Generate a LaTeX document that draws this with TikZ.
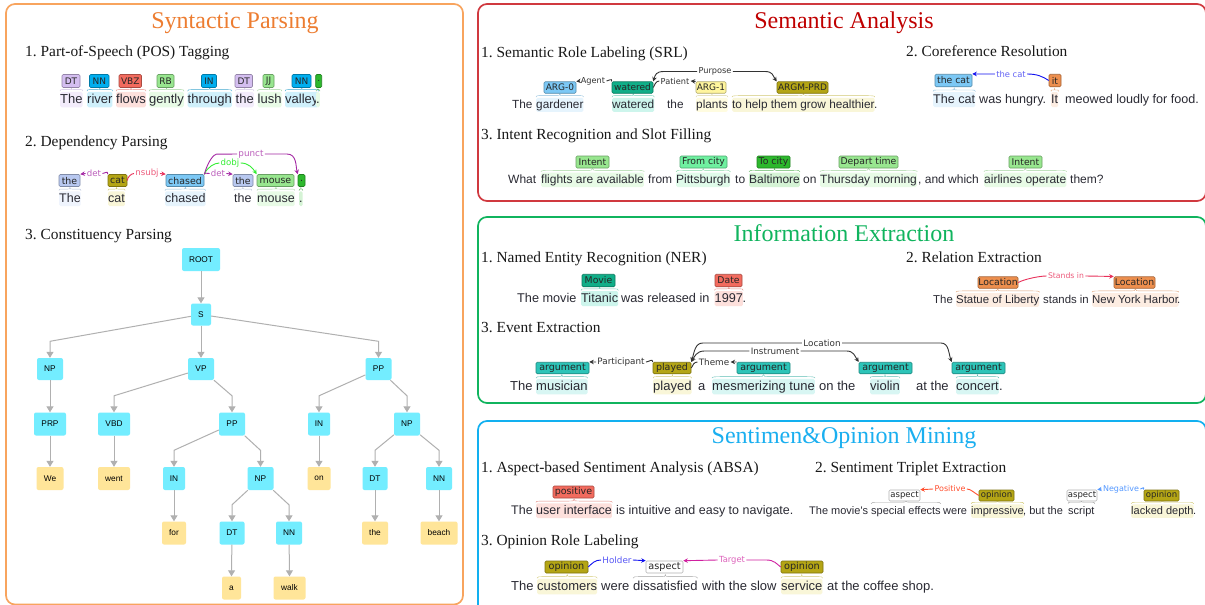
\documentclass[tikz,border=0pt]{standalone}
\usepackage{fontspec}
\usetikzlibrary{arrows.meta,calc}
\setmainfont{Liberation Serif}
\newfontfamily\sansF{Liberation Sans}
\newfontfamily\tagF{DejaVu Sans}
\frenchspacing
\definecolor{cOrange}{HTML}{F8A45E}
\definecolor{tOrange}{HTML}{ED7D31}
\definecolor{cRed}{HTML}{D0393F}
\definecolor{tRed}{HTML}{C00000}
\definecolor{cGreen}{HTML}{10B45E}
\definecolor{cBlue}{HTML}{12B0F0}
\definecolor{tBlue}{HTML}{1AAFF0}
\definecolor{ink}{HTML}{2A2A33}
\definecolor{kDT}{HTML}{D4BEF0}
\definecolor{kNN}{HTML}{00AEEF}
\definecolor{kRed}{HTML}{F26B5E}
\definecolor{kLime}{HTML}{98E68F}
\definecolor{kDark}{HTML}{2DB82D}
\definecolor{kThe}{HTML}{B8C8F0}
\definecolor{kOlive}{HTML}{B4A515}
\definecolor{kSky}{HTML}{7CC8F5}
\definecolor{kTeal}{HTML}{10AE88}
\definecolor{kYel}{HTML}{FFF59D}
\definecolor{kMint}{HTML}{6FF0A0}
\definecolor{kOr}{HTML}{ED8F4E}
\definecolor{kTurq}{HTML}{2DC4B8}
\definecolor{bDT}{HTML}{F3ECFB}
\definecolor{bNN}{HTML}{CFF0FB}
\definecolor{bRed}{HTML}{FDE0DC}
\definecolor{bLime}{HTML}{E8FBE6}
\definecolor{bThe}{HTML}{EFF4FD}
\definecolor{bOl}{HTML}{F9F6D8}
\definecolor{bSky}{HTML}{E6F4FD}
\definecolor{bTeal}{HTML}{CDF5EC}
\definecolor{bYel}{HTML}{FFFCE0}
\definecolor{bMint}{HTML}{E0FBEA}
\definecolor{bDark}{HTML}{D5F3D5}
\definecolor{bOr}{HTML}{FDEDE2}
\definecolor{bTurq}{HTML}{D8F6F3}
\definecolor{aPurple}{HTML}{A428A4}
\definecolor{aRose}{HTML}{E8305A}
\definecolor{aLime}{HTML}{33EE33}
\definecolor{aDark}{HTML}{333333}
\definecolor{aBlue}{HTML}{1010F0}
\definecolor{aMag}{HTML}{D020A0}
\definecolor{aOrR}{HTML}{FF5030}
\definecolor{aSky}{HTML}{5599FF}
\definecolor{treeC}{HTML}{73EDFF}
\definecolor{treeY}{HTML}{FFE599}
\definecolor{treeE}{HTML}{B0B0B0}
\newcommand\fsz[1]{\fontsize{#1}{#1}\selectfont}
\newcommand\tgsize{9.3}
\tikzset{
  panel/.style={draw=#1,line width=1.7pt,rounded corners=9pt},
  titlenode/.style={font=\fsz{24},text=#1,inner sep=0pt,anchor=base},
  head/.style={font=\fsz{15.4},anchor=base west,inner sep=0pt,text=black!90},
  tagb/.style={draw=#1!70!black,fill=#1,line width=.6pt,rounded corners=1.2pt,inner sep=0pt,text=black!85,
    font=\tagF\fsz{\tgsize}},
  wordb/.style n args={2}{fill=#1,font=\sansF\fsz{#2},anchor=base west,inner xsep=0pt,inner ysep=1pt,
    text height=.78*#2pt,text depth=.25*#2pt,rounded corners=1.5pt,text=ink},
  alab/.style n args={2}{font=\tagF\fsz{#2},text=#1,inner xsep=1.2pt,inner ysep=0pt},
  arcl/.style={draw=#1,line width=.9pt},
  arct/.style={draw=#1,line width=.9pt,-{Stealth[length=4.5pt,width=4.5pt]}},
  treeb/.style={fill=#1,rounded corners=2pt,inner sep=0pt,font=\sansF\fsz{8.3},text=black},
  tedgea/.style={draw=treeE,line width=1pt,-{Triangle[length=6pt,width=7pt]}},
}
\newcommand\tg[7]{\pgfmathsetmacro{\cxx}{(#3+#4)/2}\pgfmathsetmacro{\www}{#4-#3}%
  \node[tagb=#2,minimum width=\www pt,minimum height=#6pt] (#1) at (\cxx,#5) {#7};}
\newcommand\wrd[6]{\node[wordb={#2}{#5}] (#1) at (#3,#4) {#6};}
\newcommand\brc[2]{\draw[#2,draw opacity=.75,line width=.4pt] let \p1=(#1.north west),\p2=(#1.north east),\p3=(#1.north) in
  (\x1,\y1+.5pt) .. controls (\x1,\y1+2pt) .. ($(\x1,\y1+2pt)!.4!(\x3,\y1+2pt)$)
  -- ($(\x1,\y1+2pt)!.8!(\x3,\y1+2pt)$) .. controls (\x3,\y1+2pt) .. (\x3,\y1+4pt)
  .. controls (\x3,\y1+2pt) .. ($(\x2,\y1+2pt)!.8!(\x3,\y1+2pt)$)
  -- ($(\x2,\y1+2pt)!.4!(\x3,\y1+2pt)$) .. controls (\x2,\y1+2pt) .. (\x2,\y1+.5pt);}
\newcommand\tn[7]{\node[treeb=#2,minimum width=#5pt,minimum height=#6pt] (#1) at (#3,#4) {#7};}
\newcommand\elb[2]{\draw[tedgea] (#1) -- ([yshift=16.5pt]#2.north) -- (#2.north);}
\newcommand\stt[2]{\draw[tedgea] (#1) -- (#2.north);}
\begin{document}
\begin{tikzpicture}[x=1pt,y=-1pt]
\fill[white] (0,0) rectangle (1205,605);
\useasboundingbox (0,0) rectangle (1205,605);
% panels
\draw[panel=cOrange] (6,4) rectangle (463,604.5);
\draw[panel=cRed] (478,4) rectangle (1206,201);
\draw[panel=cGreen] (478,217) rectangle (1206,403);
\draw[panel=cBlue] (478,421) rectangle (1206,615);
\node[titlenode=tOrange] (ttA) at (235,28) {Syntactic Parsing};
\node[titlenode=tRed] (ttB) at (844,28) {Semantic Analysis};
\node[titlenode=cGreen] (ttC) at (844,241) {Information Extraction};
\node[titlenode=tBlue] (ttD) at (844,443) {Sentimen\&Opinion Mining};
% headings
\node[head] (h1) at (25,56) {1. Part-of-Speech (POS) Tagging};
\node[head] (h2) at (25,146) {2. Dependency Parsing};
\node[head] (h3) at (25,239) {3. Constituency Parsing};
\node[head] (h4) at (481,57) {1. Semantic Role Labeling (SRL)};
\node[head] (h5) at (906,56) {2. Coreference Resolution};
\node[head] (h6) at (481,139) {3. Intent Recognition and Slot Filling};
\node[head] (h7) at (481,262) {1. Named Entity Recognition (NER)};
\node[head] (h8) at (906,262) {2. Relation Extraction};
\node[head] (h9) at (481,332) {3. Event Extraction};
\node[head] (h10) at (481,472) {1. Aspect-based Sentiment Analysis (ABSA)};
\node[head] (h11) at (815,472) {2. Sentiment Triplet Extraction};
\node[head] (h12) at (481,545) {3. Opinion Role Labeling};
% POS
\renewcommand\tgsize{9}
\wrd{pw1}{bDT}{60}{103}{13}{The}\wrd{pw2}{bNN}{87}{103}{13}{river}\wrd{pw3}{bRed}{116}{103}{13}{flows}
\wrd{pw4}{bLime}{149}{103}{13}{gently}\wrd{pw5}{bNN}{187.5}{103}{13}{through}\wrd{pw6}{bDT}{235.5}{103}{13}{the}
\wrd{pw7}{bLime}{257.5}{103}{13}{lush}\wrd{pw8}{bNN}{285}{103}{13}{valley}\wrd{pw9}{bLime}{316}{103}{13}{.}
\brc{pw1}{kDT!90!black}\brc{pw2}{kNN!80!black}\brc{pw3}{kRed!90!black}\brc{pw4}{kLime!85!black}\brc{pw5}{kNN!80!black}
\brc{pw6}{kDT!90!black}\brc{pw7}{kLime!85!black}\brc{pw8}{kNN!80!black}\brc{pw9}{kDark!85!black}
\tg{pt1}{kDT}{62}{80}{81}{13}{DT}\tg{pt2}{kNN}{89.5}{109}{81}{13}{NN}\tg{pt3}{kRed}{119}{141.5}{81}{13}{VBZ}
\tg{pt4}{kLime}{157}{174}{81}{13}{RB}\tg{pt5}{kNN}{201.5}{216.5}{81}{13}{IN}\tg{pt6}{kDT}{235}{252.5}{81}{13}{DT}
\tg{pt7}{kLime}{263}{274}{81}{13}{JJ}\tg{pt8}{kNN}{292}{311}{81}{13}{NN}\tg{pt9}{kDark}{315.7}{321.7}{81}{13}{.}
% Dependency
\renewcommand\tgsize{9.4}
\wrd{dw1}{bThe}{59}{202}{12.5}{The}\wrd{dw2}{bOl}{108}{202}{12.5}{cat}\wrd{dw3}{bSky}{165}{202}{12.5}{chased}
\wrd{dw4}{none}{234}{202}{12.5}{the}\wrd{dw5}{bLime}{257}{202}{12.5}{mouse}\wrd{dw6}{bDark}{299}{202}{12.5}{.}
\brc{dw1}{kThe!85!black}\brc{dw2}{kOlive!80}\brc{dw3}{kSky!85!black}\brc{dw4}{kThe!85!black}\brc{dw5}{kLime!85!black}\brc{dw6}{kDark!85!black}
\tg{dt1}{kThe}{59}{80}{180.5}{12}{the}\tg{dt2}{kOlive}{108}{127}{180.5}{12}{cat}\tg{dt3}{kSky}{166}{204}{180.5}{12}{chased}
\tg{dt4}{kThe}{233}{253}{180.5}{12}{the}\tg{dt5}{kLime}{257}{294}{180.5}{12}{mouse}\tg{dt6}{kDark}{298}{305}{180.5}{12}{.}
\node[alab={aPurple!75}{8.6}] (dl1) at (94,173.5) {det};
\node[alab={aRose!80}{8.6}] (dl2) at (147,173.5) {nsubj};
\node[alab={aPurple!75}{8.6}] (dl3) at (218,173.5) {det};
\node[alab={aLime}{8.6}] (dl4) at (230,163) {dobj};
\node[alab={aPurple!75}{8.8}] (dl5) at (251,154) {punct};
\draw[arct=aPurple] (dl1.west) -- (dt1.north east);
\draw[arcl=aPurple] (dl1.east) .. controls +(3,0) and +(0,-4) .. (dt2.north west);
\draw[arct=aRose] (dl2.east) -- (dt3.north west);
\draw[arcl=aRose] (dl2.west) .. controls +(-3,0) and +(0,-3) .. (dt2.east);
\draw[arcl=aPurple] (dt3.north east) .. controls +(1,-2) and +(-4,0) .. (dl3.west);
\draw[arct=aPurple] (dl3.east) -- (dt4.north west);
\draw[arcl=aLime] (dt3.north east) .. controls +(3,-7) and +(-5,0) .. (dl4.west);
\draw[arct=aLime] (dl4.east) .. controls +(8,0) and +(-4,-6) .. (dt5.north west);
\draw[arcl=aPurple] (dt3.north east) .. controls +(4,-14) and +(-2,0) .. ++(12,-20) -- (dl5.west);
\draw[arct=aPurple] (dl5.east) -- ++(22,0) .. controls +(10,0) and +(-2,-8) .. (dt6.north west);
% Tree
\tn{tr0}{treeC}{201}{259.5}{38}{23}{ROOT}
\tn{tr1}{treeC}{201}{314.5}{20}{22}{S}
\tn{tr2}{treeC}{50}{369}{26}{22}{NP}
\tn{tr3}{treeC}{201}{369}{26}{22}{VP}
\tn{tr4}{treeC}{378.5}{369}{26}{22}{PP}
\tn{tr5}{treeC}{50}{424}{32}{23}{PRP}
\tn{tr6}{treeC}{114}{424}{32}{23}{VBD}
\tn{tr7}{treeC}{232}{424}{26}{23}{PP}
\tn{tr8}{treeC}{319}{424}{22}{23}{IN}
\tn{tr9}{treeC}{407}{424}{26}{23}{NP}
\tn{tr10}{treeY}{50}{478.5}{27}{23}{We}
\tn{tr11}{treeY}{114}{478.5}{32}{23}{went}
\tn{tr12}{treeC}{174}{478.5}{22}{23}{IN}
\tn{tr13}{treeC}{260.5}{478.5}{26}{23}{NP}
\tn{tr14}{treeY}{319}{478.5}{23}{23}{on}
\tn{tr15}{treeC}{375}{478.5}{25}{23}{DT}
\tn{tr16}{treeC}{439}{478.5}{26}{23}{NN}
\tn{tr17}{treeY}{174}{533}{24}{23}{for}
\tn{tr18}{treeC}{232}{533}{25}{23}{DT}
\tn{tr19}{treeC}{289}{533}{26}{23}{NN}
\tn{tr20}{treeY}{375}{533}{26}{23}{the}
\tn{tr21}{treeY}{439}{533}{37}{23}{beach}
\tn{tr22}{treeY}{231.5}{588}{19}{23}{a}
\tn{tr23}{treeY}{289.5}{588}{32}{23}{walk}
\stt{tr0}{tr1}\elb{tr1}{tr2}\stt{tr1}{tr3}\elb{tr1}{tr4}
\stt{tr2}{tr5}\elb{tr3}{tr6}\elb{tr3}{tr7}\elb{tr4}{tr8}\elb{tr4}{tr9}
\stt{tr5}{tr10}\stt{tr6}{tr11}\elb{tr7}{tr12}\elb{tr7}{tr13}\stt{tr8}{tr14}\elb{tr9}{tr15}\elb{tr9}{tr16}
\stt{tr12}{tr17}\elb{tr13}{tr18}\elb{tr13}{tr19}\stt{tr15}{tr20}\stt{tr16}{tr21}\stt{tr18}{tr22}\stt{tr19}{tr23}
% SRL
\renewcommand\tgsize{9}
\wrd{sw1}{none}{512}{108}{11.8}{The}\wrd{sw2}{bSky}{536}{108}{11.8}{gardener}\wrd{sw3}{bTeal}{612}{108}{11.8}{watered}
\wrd{sw4}{none}{667}{108}{11.8}{the}\wrd{sw5}{bYel}{696}{108}{11.8}{plants}\wrd{sw6}{bOl}{732}{108}{11.8}{to help them grow healthier}\wrd{sw7}{none}{874}{108}{11.8}{.}
\brc{sw2}{kSky!85!black}\brc{sw3}{kTeal!80}\brc{sw5}{kYel!80!black}\brc{sw6}{kOlive!80}
\tg{st1}{kSky}{544}{576}{87.5}{11.5}{ARG-0}\tg{st2}{kTeal}{612}{653}{87.5}{11.5}{watered}\tg{st3}{kYel}{696}{726}{87.5}{11.5}{ARG-1}\tg{st4}{kOlive}{777}{828}{87.5}{11.5}{ARGM-PRD}
\node[alab={aDark}{8.2}] (sl1) at (593,81) {Agent};
\node[alab={aDark}{8.2}] (sl2) at (675,81) {Patient};
\node[alab={aDark}{8.2}] (sl3) at (715,71.5) {Purpose};
\draw[arct=aDark] (sl1.west) -- (st1.north east);
\draw[arcl=aDark] (sl1.east) .. controls +(3,0) and +(0,-4) .. (st2.north west);
\draw[arcl=aDark] (sl2.west) .. controls +(-3,0) and +(1,-3) .. (st2.east);
\draw[arct=aDark] (st3.north west) -- (sl2.east);
\draw[arct=aDark] (sl3.west) -- ++(-33,0) .. controls +(-8,0) and +(2,-7) .. (st2.north east);
\draw[arct=aDark] (sl3.east) -- ++(32,0) .. controls +(8,0) and +(-4,-6) .. (st4.north west);
% Coreference
\renewcommand\tgsize{9.3}
\wrd{cw1}{bSky}{933}{103}{12.6}{The cat}\wrd{cw2}{none}{979}{103}{12.6}{was hungry.}\wrd{cw3}{bOr}{1051}{103}{12.6}{It}\wrd{cw4}{none}{1065}{103}{12.6}{meowed loudly for food.}
\brc{cw1}{kSky!85!black}\brc{cw3}{kOr!90!black}
\tg{ct1}{kSky}{935}{972}{80.5}{12.5}{the cat}\tg{ct2}{kOr}{1049}{1061}{80.5}{12.5}{it}
\node[alab={aBlue!65}{8.4}] (cl1) at (1011,74) {the cat};
\draw[arct=aBlue] (cl1.west) -- (ct1.north east);
\draw[arcl=aBlue] (cl1.east) .. controls +(10,0) and +(-6,-4) .. (ct2.west);
% Intent
\wrd{iw1}{none}{508}{183}{12}{What}\wrd{iw2}{bLime}{541}{183}{12}{flights are available}\wrd{iw3}{none}{648}{183}{12}{from}
\wrd{iw4}{bMint}{676}{183}{12}{Pittsburgh}\wrd{iw5}{none}{735}{183}{12}{to}\wrd{iw6}{bDark}{749}{183}{12}{Baltimore}\wrd{iw7}{none}{803}{183}{12}{on}
\wrd{iw8}{bLime}{820}{183}{12}{Thursday morning}\wrd{iw9}{none}{918}{183}{12}{, and which}\wrd{iw10}{bLime}{984}{183}{12}{airlines operate}\wrd{iw11}{none}{1070}{183}{12}{them?}
\brc{iw2}{kLime!85!black}\brc{iw4}{kMint!85!black}\brc{iw6}{kDark!85!black}\brc{iw8}{kLime!85!black}\brc{iw10}{kLime!85!black}
\tg{it1}{kLime}{576}{609}{162}{12}{Intent}\tg{it2}{kMint}{680}{727}{162}{12}{From city}\tg{it3}{kDark}{757}{790}{162}{12}{To city}\tg{it4}{kLime}{839}{898}{162}{12}{Depart time}\tg{it5}{kLime}{1009}{1042}{162}{12}{Intent}
% NER
\wrd{nw1}{none}{517}{302}{12.7}{The movie}\wrd{nw2}{bTeal}{581}{302}{12.7}{Titanic}\wrd{nw3}{none}{621}{302}{12.7}{was released in}\wrd{nw4}{bRed}{714.5}{302}{12.7}{1997}\wrd{nw5}{none}{742.5}{302}{12.7}{.}
\brc{nw2}{kTeal!80}\brc{nw4}{kRed!90!black}
\tg{nt1}{kTeal}{582}{615}{280.5}{12.5}{Movie}\tg{nt2}{kRed}{715}{742}{280.5}{12.5}{Date}
% Relation
\wrd{rw1}{none}{933}{303}{11.4}{The}\wrd{rw2}{bOr}{956}{303}{11.4}{Statue of Liberty}\wrd{rw3}{none}{1043}{303}{11.4}{stands in}\wrd{rw4}{bOr}{1092}{303}{11.4}{New York Harbor}\wrd{rw5}{none}{1177}{303}{11.4}{.}
\brc{rw2}{kOr!90!black}\brc{rw4}{kOr!90!black}
\tg{rt1}{kOr}{978}{1018}{282.5}{11.5}{Location}\tg{rt2}{kOr}{1114}{1155}{282.5}{11.5}{Location}
\node[alab={aRose!80}{7.7}] (rl1) at (1066,276) {Stands in};
\draw[arcl=aRose] (rt1.east) .. controls +(5,-3) and +(-8,0) .. (rl1.west);
\draw[arct=aRose] (rl1.east) -- (rt2.north west);
% Event
\renewcommand\tgsize{9.5}
\wrd{ew1}{none}{510}{390}{13}{The}\wrd{ew2}{bTurq}{536}{390}{13}{musician}\wrd{ew3}{bOl}{653}{390}{13}{played}\wrd{ew4}{none}{698}{390}{13}{a}
\wrd{ew5}{bTurq}{712}{390}{13}{mesmerizing tune}\wrd{ew6}{none}{819}{390}{13}{on the}\wrd{ew7}{bTurq}{870}{390}{13}{violin}\wrd{ew8}{none}{916}{390}{13}{at the}\wrd{ew9}{bTurq}{956}{390}{13}{concert}\wrd{ew10}{none}{999}{390}{13}{.}
\brc{ew2}{kTurq!85!black}\brc{ew3}{kOlive!80}\brc{ew5}{kTurq!85!black}\brc{ew7}{kTurq!85!black}\brc{ew9}{kTurq!85!black}
\tg{et1}{kTurq}{536}{589}{368}{11.5}{argument}\tg{et2}{kOlive}{653}{691}{368}{11.5}{played}\tg{et3}{kTurq}{737}{790}{368}{11.5}{argument}\tg{et4}{kTurq}{859}{912}{368}{11.5}{argument}\tg{et5}{kTurq}{952}{1005}{368}{11.5}{argument}
\node[alab={aDark}{8.8}] (el1) at (621,362) {Participant};
\node[alab={aDark}{8.8}] (el2) at (714,362) {Theme};
\node[alab={aDark}{8.8}] (el3) at (775,351) {Instrument};
\node[alab={aDark}{8.8}] (el4) at (822,343) {Location};
\draw[arct=aDark] (el1.west) -- (et1.north east);
\draw[arcl=aDark] (el1.east) .. controls +(3,0) and +(0,-4) .. (et2.north west);
\draw[arcl=aDark] (el2.west) .. controls +(-3,0) and +(1,-3) .. (et2.east);
\draw[arct=aDark] (et3.north west) -- (el2.east);
\draw[arct=aDark] (el3.west) -- ++(-45,0) .. controls +(-8,0) and +(3,-5) .. (et2.north east);
\draw[arct=aDark] (el3.east) -- ++(46,0) .. controls +(7,0) and +(-4,-6) .. (et4.north west);
\draw[arct=aDark] (el4.west) -- ++(-99,0) .. controls +(-8,0) and +(3,-10) .. (et2.north east);
\draw[arct=aDark] (el4.east) -- ++(99,0) .. controls +(8,0) and +(-3,-8) .. (et5.north west);
% ABSA
\wrd{aw1}{none}{511}{514}{12.5}{The}\wrd{aw2}{bRed}{536}{514}{12.5}{user interface}\wrd{aw3}{none}{616}{514}{12.5}{is intuitive and easy to navigate.}
\brc{aw2}{kRed!90!black}
\tg{at1}{kRed}{553}{594}{492}{12}{positive}
% Triplet
\renewcommand\tgsize{8.5}
\wrd{tw1}{none}{809}{514}{11}{The movie's}\wrd{tw2}{none}{871}{514}{11}{special effects}\wrd{tw3}{none}{943}{514}{11}{were}\wrd{tw4}{bOl}{971}{514}{11}{impressive}
\wrd{tw5}{none}{1023}{514}{11}{, but the}\wrd{tw6}{none}{1068}{514}{11}{script}\wrd{tw7}{bOl}{1131}{514}{11}{lacked depth}\wrd{tw8}{none}{1193}{514}{11}{.}
\brc{tw2}{gray}\brc{tw4}{kOlive!80}\brc{tw6}{gray}\brc{tw7}{kOlive!80}
\tg{tt1}{white}{889}{920}{495.5}{11}{aspect}\tg{tt2}{kOlive}{979}{1014}{495.5}{11}{opinion}\tg{tt3}{white}{1067}{1097}{495.5}{11}{aspect}\tg{tt4}{kOlive}{1144}{1179}{495.5}{11}{opinion}
\node[alab={aOrR}{8}] (tl1) at (950,489) {Positive};
\node[alab={aSky}{8}] (tl2) at (1121,489) {Negative};
\draw[arct=aOrR] (tl1.west) -- (tt1.north east);
\draw[arcl=aOrR] (tl1.east) .. controls +(4,0) and +(-5,-3) .. (tt2.west);
\draw[arct=aSky] (tl2.west) -- (tt3.north east);
\draw[arcl=aSky] (tl2.east) .. controls +(3,0) and +(0,-4) .. (tt4.north west);
% Opinion
\renewcommand\tgsize{9.7}
\wrd{ow1}{none}{511}{590}{13}{The}\wrd{ow2}{bOl}{537}{590}{13}{customers}\wrd{ow3}{none}{601}{590}{13}{were}\wrd{ow4}{none}{633}{590}{13}{dissatisfied}
\wrd{ow5}{none}{702}{590}{13}{with the slow}\wrd{ow6}{bOl}{781}{590}{13}{service}\wrd{ow7}{none}{827}{590}{13}{at the coffee shop.}
\brc{ow2}{kOlive!80}\brc{ow4}{gray}\brc{ow6}{kOlive!80}
\tg{ot1}{kOlive}{545}{588}{567}{12}{opinion}\tg{ot2}{white}{646}{683}{567}{12}{aspect}\tg{ot3}{kOlive}{781}{823}{567}{12}{opinion}
\node[alab={aBlue!70}{8.8}] (ol1) at (617,560) {Holder};
\node[alab={aMag!70}{8.4}] (ol2) at (732,560) {Target};
\draw[arcl=aBlue] (ot1.east) .. controls +(4,-4) and +(-6,0) .. (ol1.west);
\draw[arct=aBlue] (ol1.east) -- (ot2.north west);
\draw[arct=aMag] (ol2.west) -- (ot2.north east);
\draw[arcl=aMag] (ol2.east) -- ++(20,0) .. controls +(8,0) and +(-4,-3) .. (ot3.west);
\end{tikzpicture}
\end{document}
